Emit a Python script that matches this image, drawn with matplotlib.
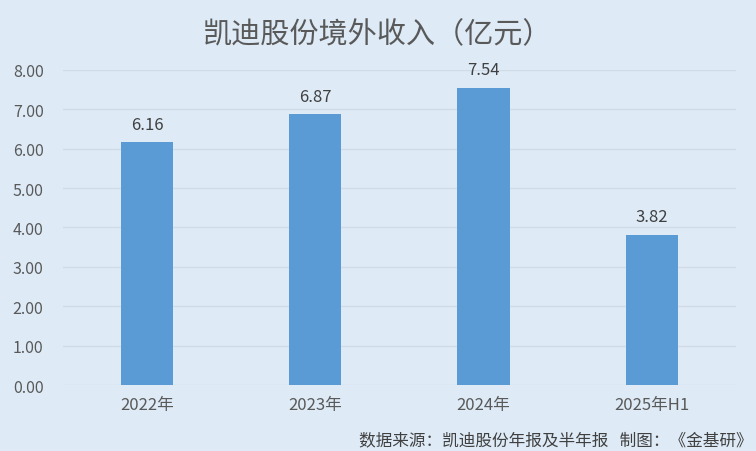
import matplotlib
matplotlib.use("Agg")
import matplotlib.pyplot as plt

plt.rcParams['font.family'] = ['Noto Sans CJK SC', 'DejaVu Sans']

categories = ["2022年", "2023年", "2024年", "2025年H1"]
revenue = [6.16, 6.87, 7.54, 3.82]
yticks = [0, 1, 2, 3, 4, 5, 6, 7, 8]

BG = "#DEEBF7"
BAR = "#5B9BD5"
TXT = "#595959"

fig = plt.figure(figsize=(7.56, 4.52), dpi=100, facecolor=BG)
ax = fig.add_axes([0.0833, 0.146, 0.890, 0.697], facecolor=BG)

x = range(len(categories))
ax.bar(x, revenue, width=0.31, color=BAR, zorder=3)
for xi, v in zip(x, revenue):
    ax.text(xi, v + 0.25, f"{v:.2f}", ha="center", va="bottom", fontsize=12, color="#404040")

ax.set_xlim(-0.5, len(categories) - 0.5)
ax.set_ylim(0, 8)
ax.set_yticks(yticks)
ax.set_yticklabels([f"{t:.2f}" for t in yticks], fontsize=11.5, color=TXT)
ax.set_xticks(list(x))
ax.set_xticklabels(categories, fontsize=12, color=TXT)
ax.tick_params(length=0, pad=8)
ax.tick_params(axis="y", pad=14)
ax.grid(axis="y", color="#D0DBE5", lw=1, zorder=0)
for s in ax.spines.values():
    s.set_visible(False)

fig.text(0.5, 0.922, "凯迪股份境外收入（亿元）", ha="center", va="center", fontsize=21, color=TXT)
fig.text(0.995, 0.025, "数据来源：凯迪股份年报及半年报   制图：《金基研》", ha="right", va="center",
         fontsize=12, color="#404040")

fig.savefig("out.png", dpi=100, facecolor=BG)
